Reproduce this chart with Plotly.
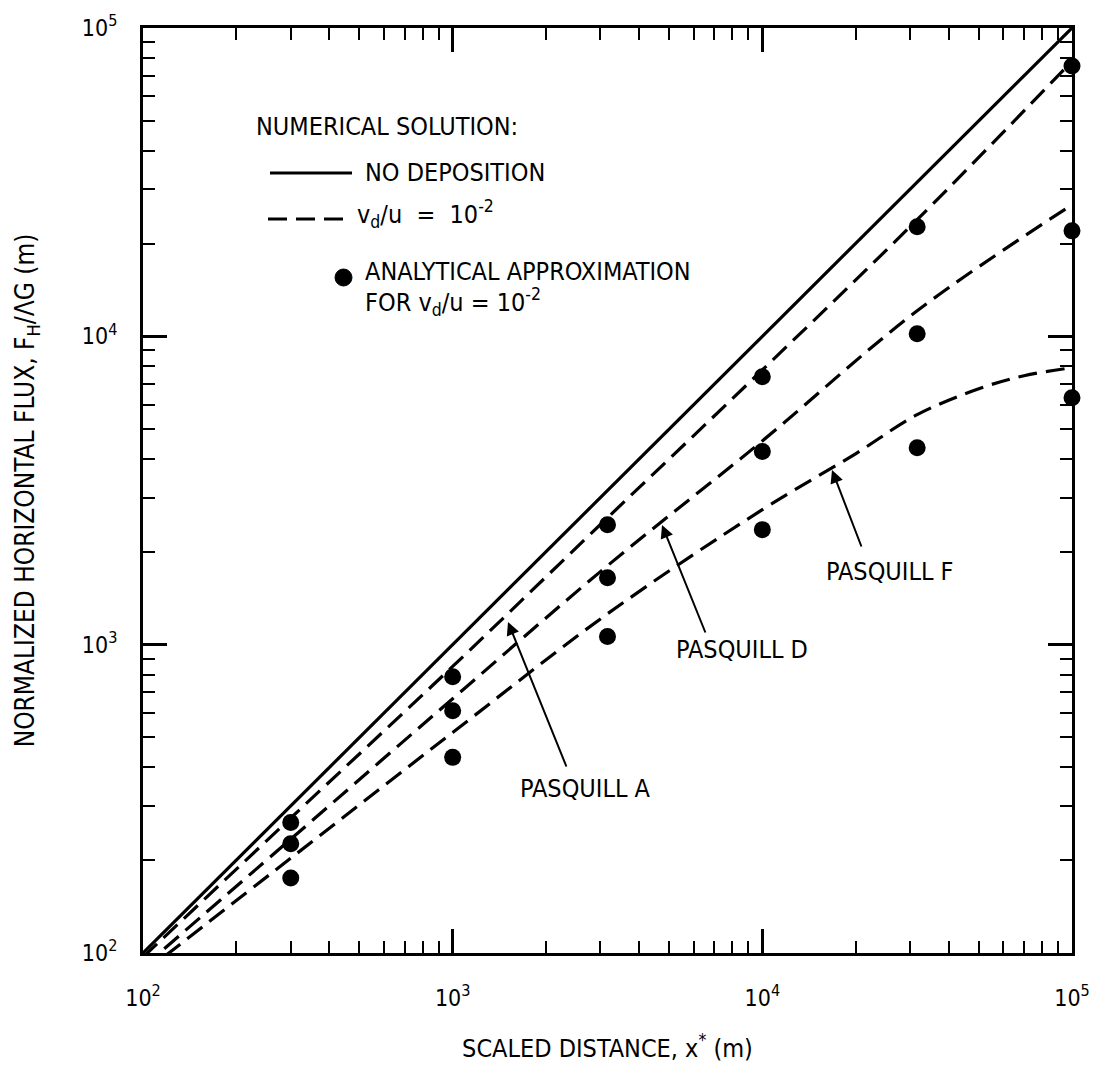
import plotly.graph_objects as go

# ---------------- data ----------------
nodep_x = [100, 1000, 10000, 100000]
nodep_y = [100, 1000, 10000, 100000]

pasq_a_x = [100, 300, 1000, 3162, 10000, 31623, 100000]
pasq_a_y = [97, 274, 850, 2580, 7780, 23900, 78000]

pasq_d_x = [100, 300, 1000, 3162, 10000, 31623, 100000]
pasq_d_y = [90, 234, 668, 1803, 4580, 12100, 26700]

pasq_f_x = [100, 300, 1000, 3162, 10000, 20000, 31623, 50000, 70000, 100000]
pasq_f_y = [86, 203, 519, 1259, 2740, 4160, 5570, 6760, 7450, 7910]

approx_x = [300, 300, 300, 1000, 1000, 1000, 3162, 3162, 3162,
            10000, 10000, 10000, 31623, 31623, 31623, 100000, 100000, 100000]
approx_y = [265, 226, 175, 787, 611, 431, 2449, 1648, 1062,
            7396, 4229, 2361, 22650, 10190, 4355, 75300, 21980, 6325]

major_vals = [100, 1000, 10000, 100000]
major_text = ["10<sup>2</sup>", "10<sup>3</sup>", "10<sup>4</sup>", "10<sup>5</sup>"]
minor_vals = [k * 10 ** e for e in (2, 3, 4) for k in range(2, 10)]

FONT = "DejaVu Sans Condensed, Liberation Sans Narrow, sans-serif"
DASH = "19px,9px"
LW = 3.2

fig = go.Figure()
fig.add_trace(go.Scatter(x=nodep_x, y=nodep_y, mode="lines",
                         line=dict(color="black", width=LW), showlegend=False))
for xs, ys in ((pasq_a_x, pasq_a_y), (pasq_d_x, pasq_d_y), (pasq_f_x, pasq_f_y)):
    fig.add_trace(go.Scatter(x=xs, y=ys, mode="lines", line_shape="spline",
                             line=dict(color="black", width=LW, dash=DASH),
                             showlegend=False))
fig.add_trace(go.Scatter(x=approx_x, y=approx_y, mode="markers",
                         marker=dict(color="black", size=17), cliponaxis=False,
                         showlegend=False))

# plot area in pixels
L, R, T, B = 143, 1072, 28, 953
W, H = 1105, 1077


def px(xp):
    return (xp - L) / (R - L)


def py(yp):
    return (B - yp) / (B - T)


axis_common = dict(type="log", showline=True, linecolor="black", linewidth=3,
                   mirror="allticks", ticks="inside", ticklen=24, tickwidth=2.5,
                   tickcolor="black", showgrid=False, zeroline=False,
                   tickvals=major_vals, ticktext=major_text,
                   tickfont=dict(family=FONT, size=23, color="black"),
                   minor=dict(tickvals=minor_vals, ticks="inside", ticklen=12,
                              tickwidth=2, tickcolor="black", showgrid=False))

fig.update_xaxes(range=[2, 5], **axis_common, ticklabelstandoff=22,
                 title=dict(text="SCALED DISTANCE, x<sup>*</sup> (m)",
                            font=dict(family=FONT, size=25, color="black"),
                            standoff=30))
fig.update_yaxes(range=[2, 5], **axis_common, ticklabelstandoff=18,
                 title=dict(text="NORMALIZED HORIZONTAL FLUX, F<sub>H</sub>/ΛG (m)",
                            font=dict(family=FONT, size=26, color="black"),
                            standoff=40))

annos = []
tf = dict(family=FONT, size=25, color="black")


def text(x, y, s, anchor="left"):
    annos.append(dict(x=px(x), y=py(y), xref="paper", yref="paper", text=s,
                      showarrow=False, xanchor=anchor, yanchor="middle", font=tf))


text(254, 126, "NUMERICAL SOLUTION:")
text(363, 173, "NO DEPOSITION")
text(355, 214, "v<sub>d</sub>/u  =  10<sup>-2</sup>")
text(363, 271, "ANALYTICAL APPROXIMATION")
text(363, 302, "FOR v<sub>d</sub>/u = 10<sup>-2</sup>")
text(585, 788, "PASQUILL A", "center")
text(742, 649, "PASQUILL D", "center")
text(890, 571, "PASQUILL F", "center")


def arrow(hx, hy, tx, ty):
    annos.append(dict(x=px(hx), y=py(hy), xref="paper", yref="paper", text="",
                      showarrow=True, ax=tx - hx, ay=ty - hy, arrowhead=2,
                      arrowsize=1.3, arrowwidth=2, arrowcolor="black"))


arrow(508, 622, 567, 768)
arrow(662, 525, 706, 634)
arrow(832, 470, 862, 548)

shapes = [
    dict(type="line", xref="paper", yref="paper", x0=px(270), x1=px(352),
         y0=py(173), y1=py(173), line=dict(color="black", width=LW)),
    dict(type="line", xref="paper", yref="paper", x0=px(268), x1=px(350),
         y0=py(219), y1=py(219), line=dict(color="black", width=LW, dash=DASH)),
    dict(type="circle", xref="paper", yref="paper", x0=px(335), x1=px(352),
         y0=py(269), y1=py(286), fillcolor="black", line=dict(color="black", width=1)),
]

fig.update_layout(width=W, height=H, margin=dict(l=L, r=W - R, t=T, b=H - B),
                  plot_bgcolor="white", paper_bgcolor="white",
                  annotations=annos, shapes=shapes, showlegend=False,
                  font=dict(family=FONT, color="black"))

fig.write_html("out.html")
